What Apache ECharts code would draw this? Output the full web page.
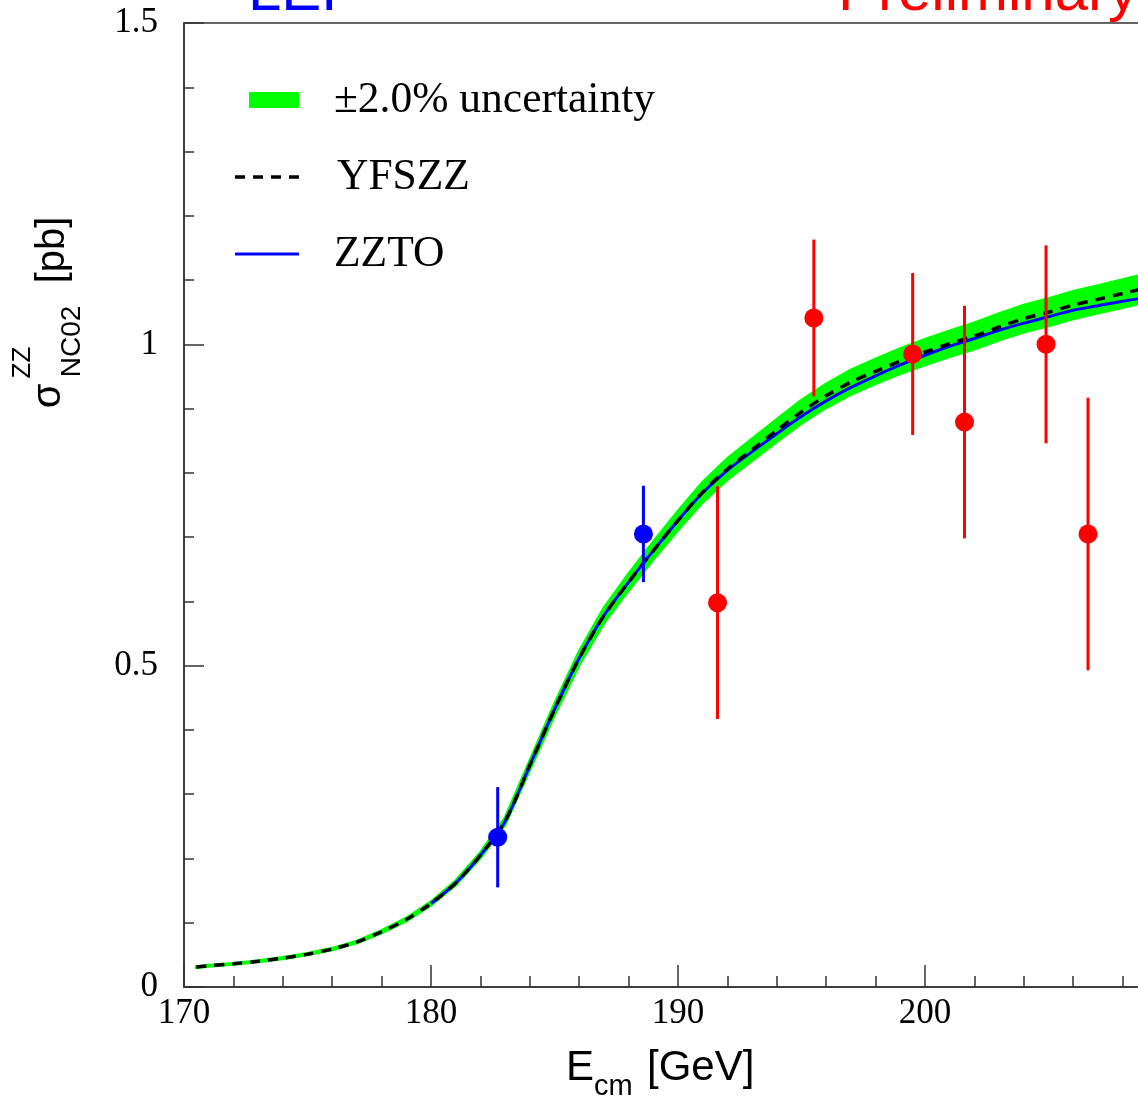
<!DOCTYPE html>
<html>
<head>
<meta charset="utf-8">
<script src="https://cdn.jsdelivr.net/npm/echarts@6/dist/echarts.min.js"></script>
<style>html,body{margin:0;padding:0;background:#fff;overflow:hidden;width:1138px;height:1103px}#c{width:1172px;height:1103px}</style>
</head>
<body>
<div id="c"></div>
<script>
// ---- data ----
const energies = [170.5,171,172,173,174,175,176,177,178,179,180,181,182,183,184,185,186,187,188,189,190,191,192,193,194,195,196,197,198,199,200,201,202,203,204,205,206,207,208,209,210];
const yfszz    = [0.031,0.033,0.036,0.040,0.045,0.051,0.059,0.070,0.086,0.105,0.130,0.162,0.205,0.258,0.345,0.432,0.512,0.578,0.630,0.679,0.726,0.770,0.806,0.836,0.866,0.895,0.920,0.941,0.958,0.974,0.988,1.001,1.013,1.027,1.040,1.050,1.061,1.070,1.079,1.088,1.096];
const zztoE    = [180,181,182,183,184,185,186,187,188,189,190,191,192,193,194,195,196,197,198,199,200,201,202,203,204,205,206,207,208,209,210];
const zzto     = [0.130,0.162,0.205,0.258,0.345,0.432,0.512,0.578,0.630,0.679,0.726,0.769,0.804,0.833,0.861,0.888,0.912,0.933,0.951,0.968,0.983,0.997,1.009,1.022,1.033,1.043,1.053,1.060,1.067,1.073,1.079];
const bandFraction = 0.02;
// LEP combined (blue) and preliminary (red) measurements: energy, value, error
const lepE   = [182.7, 188.6];
const lepV   = [0.233, 0.705];
const lepErr = [0.078, 0.075];
const preE   = [191.6, 195.5, 199.5, 201.6, 204.9, 206.6];
const preV   = [0.598, 1.041, 0.985, 0.879, 1.000, 0.705];
const preErr = [0.181, 0.122, 0.126, 0.181, 0.154, 0.212];
const xTicks = {min:170, max:210, interval:10};
const yTicks = {min:0, max:1.5, interval:0.5};

// ---- chart ----
const chart = echarts.init(document.getElementById('c'), null, {renderer:'canvas', width:1172, height:1103});
const axisCol = '#333';
const serif = 'Liberation Serif';
const sans = 'Liberation Sans';

function errSeries(E, V, Err, color) {
  return {
    type:'custom', z:5, silent:true,
    data: E.map((e,i)=>[e, V[i]-Err[i], V[i]+Err[i]]),
    renderItem: function(params, api){
      const p1 = api.coord([api.value(0), api.value(1)]);
      const p2 = api.coord([api.value(0), api.value(2)]);
      return {type:'line', shape:{x1:p1[0],y1:p1[1],x2:p2[0],y2:p2[1]}, style:{stroke:color, lineWidth:3}};
    }
  };
}

const option = {
  animation:false,
  backgroundColor:'#fff',
  grid:{left:184, top:23, bottom:116, right:0, containLabel:false, outerBoundsMode:'none', show:true, borderColor:axisCol, borderWidth:1.5, backgroundColor:'transparent'},
  xAxis:{
    type:'value', min:xTicks.min, max:xTicks.max, interval:xTicks.interval,
    axisLine:{show:true, lineStyle:{color:axisCol, width:1.5}},
    axisTick:{show:true, inside:true, length:22, lineStyle:{color:axisCol, width:1.5}},
    minorTick:{show:true, splitNumber:5, length:11, lineStyle:{color:axisCol, width:1.5}},
    axisLabel:{fontFamily:serif, fontSize:35, color:'#000', margin:9},
    splitLine:{show:false}
  },
  yAxis:{
    type:'value', min:yTicks.min, max:yTicks.max, interval:yTicks.interval,
    axisLine:{show:true, lineStyle:{color:axisCol, width:1.5}},
    axisTick:{show:true, inside:true, length:20, lineStyle:{color:axisCol, width:1.5}},
    minorTick:{show:true, splitNumber:5, length:10, lineStyle:{color:axisCol, width:1.5}},
    axisLabel:{fontFamily:serif, fontSize:35, color:'#000', margin:26},
    splitLine:{show:false}
  },
  series:[
    {
      type:'custom', z:1, silent:true, data:[[energies[0], yfszz[0]]],
      renderItem:function(params, api){
        const up = energies.map((e,i)=>api.coord([e, yfszz[i]*(1+bandFraction)]));
        const lo = energies.map((e,i)=>api.coord([e, yfszz[i]*(1-bandFraction)])).reverse();
        return {type:'polygon', shape:{points:up.concat(lo), smooth:0}, style:{fill:'#00ff00', stroke:'#00ff00', lineWidth:3}};
      }
    },
    {type:'line', z:2, data:zztoE.map((e,i)=>[e,zzto[i]]), showSymbol:false, smooth:0.3, lineStyle:{color:'#0000ff', width:3}},
    {type:'line', z:3, data:energies.map((e,i)=>[e,yfszz[i]]), showSymbol:false, smooth:0.3, lineStyle:{color:'#000', width:3.5, type:[10,8]}},
    errSeries(lepE, lepV, lepErr, '#0000ff'),
    errSeries(preE, preV, preErr, '#ff0000'),
    {type:'scatter', z:6, data:lepE.map((e,i)=>[e,lepV[i]]), symbol:'circle', symbolSize:19, itemStyle:{color:'#0000ff', opacity:1}},
    {type:'scatter', z:6, data:preE.map((e,i)=>[e,preV[i]]), symbol:'circle', symbolSize:19, itemStyle:{color:'#ff0000', opacity:1}}
  ],
  graphic:[
    // header texts
    {type:'text', x:248, y:-7, style:{text:'LEP', fontFamily:sans, fontSize:60, fill:'#0000ff', align:'left', verticalAlign:'middle'}},
    {type:'text', x:838, y:-7, style:{text:'Preliminary', fontFamily:sans, fontSize:60, fill:'#ff0000', align:'left', verticalAlign:'middle'}},
    // legend
    {type:'rect', shape:{x:249, y:92, width:50, height:16}, style:{fill:'#00ff00'}},
    {type:'line', shape:{x1:235, y1:177, x2:299, y2:177}, style:{stroke:'#000', lineWidth:3.5, lineDash:[10,8]}},
    {type:'line', shape:{x1:235, y1:254, x2:299, y2:254}, style:{stroke:'#0000ff', lineWidth:3}},
    {type:'text', x:334, y:100.5, style:{text:'±2.0% uncertainty', fontFamily:serif, fontSize:43.5, fill:'#000', align:'left', verticalAlign:'middle'}},
    {type:'text', x:337, y:178, style:{text:'YFSZZ', fontFamily:serif, fontSize:43.5, fill:'#000', align:'left', verticalAlign:'middle'}},
    {type:'text', x:334, y:255, style:{text:'ZZTO', fontFamily:serif, fontSize:43.5, fill:'#000', align:'left', verticalAlign:'middle'}},
    // x axis title
    {type:'text', x:566, y:1068, style:{text:'E', fontFamily:sans, fontSize:42, fill:'#000', align:'left', verticalAlign:'middle'}},
    {type:'text', x:594, y:1087, style:{text:'cm', fontFamily:sans, fontSize:29, fill:'#000', align:'left', verticalAlign:'middle'}},
    {type:'text', x:647, y:1068, style:{text:'[GeV]', fontFamily:sans, fontSize:42, fill:'#000', align:'left', verticalAlign:'middle'}},
    // y axis title (rotated)
    {type:'text', x:49, y:396, rotation:Math.PI/2, style:{text:'σ', fontFamily:sans, fontSize:40, fill:'#000', align:'center', verticalAlign:'middle'}},
    {type:'text', x:23, y:362.5, rotation:Math.PI/2, style:{text:'ZZ', fontFamily:sans, fontSize:26, fill:'#000', align:'center', verticalAlign:'middle'}},
    {type:'text', x:72, y:341.5, rotation:Math.PI/2, style:{text:'NC02', fontFamily:sans, fontSize:28, fill:'#000', align:'center', verticalAlign:'middle'}},
    {type:'text', x:52.5, y:250, rotation:Math.PI/2, style:{text:'[pb]', fontFamily:sans, fontSize:40, fill:'#000', align:'center', verticalAlign:'middle'}}
  ]
};
chart.setOption(option);
</script>
</body>
</html>
